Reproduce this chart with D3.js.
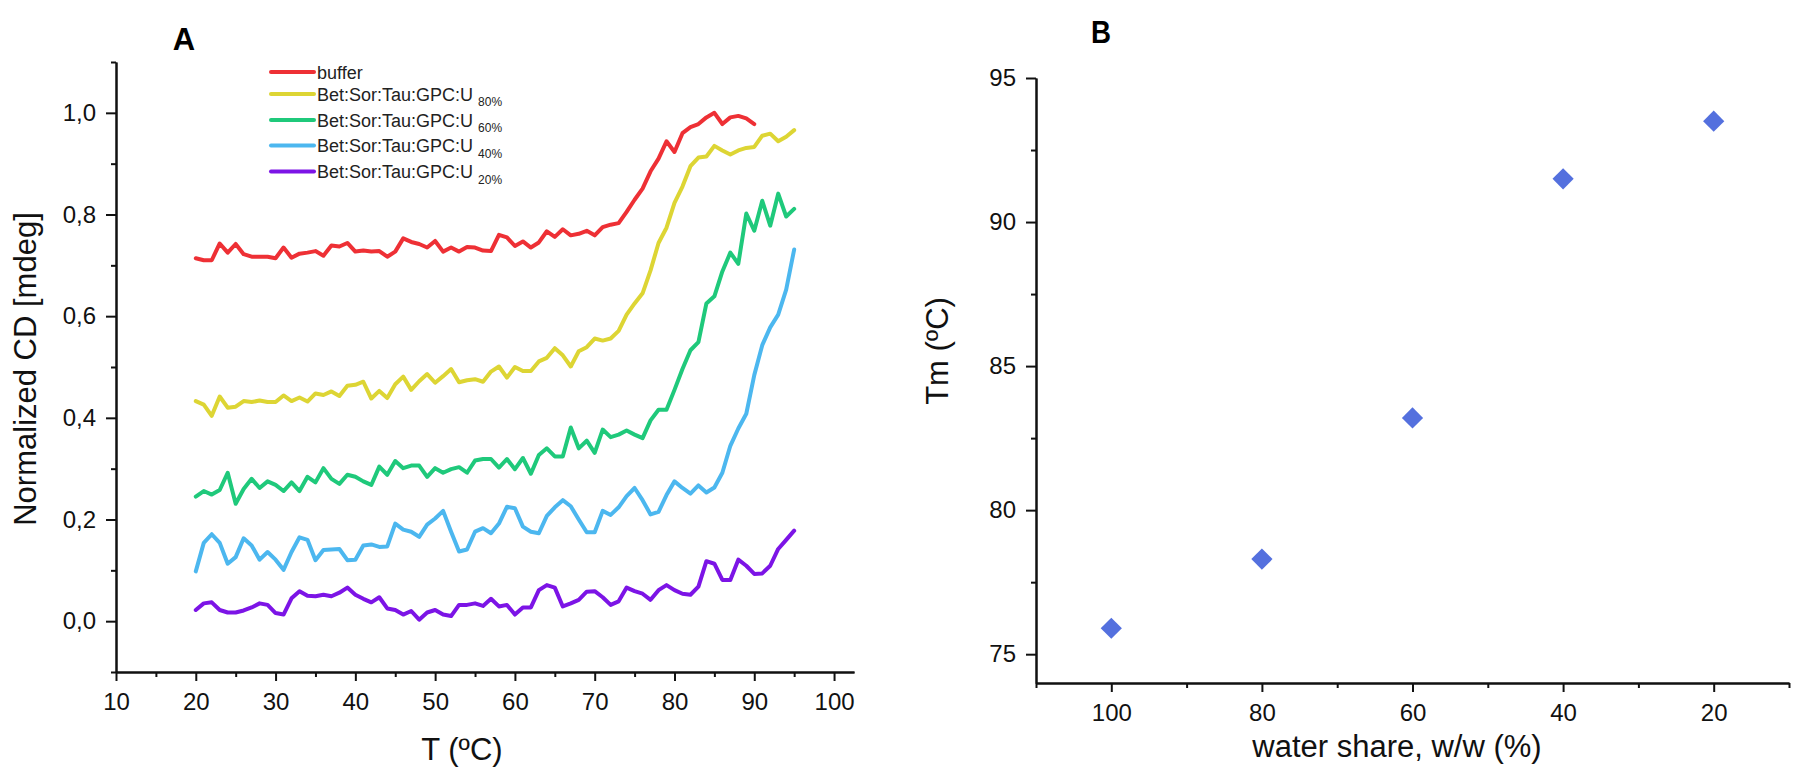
<!DOCTYPE html>
<html>
<head>
<meta charset="utf-8">
<script src="https://cdn.jsdelivr.net/npm/d3@7"></script>
<style>
    body { margin: 0; background: #fff; }
    svg { display: block; font-family: "Liberation Sans", Arial, sans-serif; }
    .axis path, .axis line { stroke: #111; stroke-width: 2; }
    .axis text { font-size: 24px; fill: #111; }
</style>
</head>
<body>
<svg id="chart" width="1801" height="774"></svg>
<script>
// panel A: CD melting curves, one point per degree
const temps = [20, 21, 22, 23, 24, 25, 26, 27, 28, 29, 30, 31, 32, 33, 34, 35, 36, 37, 38, 39,
    40, 41, 42, 43, 44, 45, 46, 47, 48, 49, 50, 51, 52, 53, 54, 55, 56, 57, 58, 59,
    60, 61, 62, 63, 64, 65, 66, 67, 68, 69, 70, 71, 72, 73, 74, 75, 76, 77, 78, 79,
    80, 81, 82, 83, 84, 85, 86, 87, 88, 89, 90, 91, 92, 93, 94, 95];

const buffer = [0.714, 0.71, 0.71, 0.743, 0.725, 0.742, 0.722, 0.717, 0.717, 0.717,
    0.714, 0.735, 0.715, 0.723, 0.725, 0.728, 0.719, 0.739, 0.737, 0.744,
    0.727, 0.729, 0.727, 0.728, 0.717, 0.727, 0.753, 0.746, 0.742, 0.735,
    0.748, 0.727, 0.735, 0.727, 0.736, 0.735, 0.729, 0.728, 0.76, 0.755,
    0.738, 0.747, 0.735, 0.745, 0.767, 0.756, 0.771, 0.759, 0.762, 0.768,
    0.759, 0.775, 0.78, 0.783, 0.805, 0.829, 0.851, 0.885, 0.91, 0.944,
    0.923, 0.96, 0.972, 0.978, 0.991, 1.0, 0.978, 0.991, 0.994, 0.989,
    0.978];

const u80 = [0.433, 0.426, 0.404, 0.442, 0.42, 0.422, 0.433, 0.431, 0.434, 0.431,
    0.431, 0.444, 0.433, 0.44, 0.432, 0.448, 0.445, 0.452, 0.443, 0.463,
    0.465, 0.471, 0.438, 0.453, 0.439, 0.466, 0.481, 0.455, 0.472, 0.486,
    0.469, 0.482, 0.496, 0.47, 0.474, 0.476, 0.471, 0.491, 0.501, 0.479,
    0.5, 0.492, 0.492, 0.511, 0.518, 0.537, 0.523, 0.501, 0.531, 0.539,
    0.556, 0.552, 0.556, 0.571, 0.603, 0.625, 0.645, 0.69, 0.744, 0.774,
    0.823, 0.855, 0.895, 0.912, 0.914, 0.935, 0.926, 0.918, 0.926, 0.931,
    0.933, 0.955, 0.959, 0.944, 0.953, 0.966];

const u60 = [0.245, 0.256, 0.249, 0.258, 0.292, 0.231, 0.26, 0.28, 0.262, 0.275,
    0.268, 0.256, 0.273, 0.256, 0.284, 0.273, 0.301, 0.28, 0.27, 0.288,
    0.284, 0.275, 0.268, 0.304, 0.288, 0.315, 0.301, 0.306, 0.306, 0.284,
    0.301, 0.292, 0.299, 0.303, 0.292, 0.316, 0.319, 0.319, 0.302, 0.319,
    0.299, 0.321, 0.29, 0.327, 0.34, 0.324, 0.324, 0.381, 0.34, 0.355,
    0.331, 0.377, 0.362, 0.367, 0.375, 0.367, 0.36, 0.395, 0.416, 0.416,
    0.455, 0.496, 0.533, 0.549, 0.625, 0.639, 0.688, 0.725, 0.703, 0.802,
    0.768, 0.827, 0.778, 0.841, 0.796, 0.811];

const u40 = [0.098, 0.154, 0.171, 0.154, 0.113, 0.126, 0.163, 0.149, 0.121, 0.136,
    0.121, 0.101, 0.136, 0.165, 0.16, 0.12, 0.14, 0.141, 0.142, 0.12,
    0.121, 0.149, 0.151, 0.146, 0.147, 0.192, 0.18, 0.176, 0.166, 0.19,
    0.202, 0.217, 0.176, 0.137, 0.141, 0.176, 0.183, 0.173, 0.192, 0.225,
    0.222, 0.186, 0.176, 0.173, 0.207, 0.224, 0.238, 0.226, 0.2, 0.175,
    0.175, 0.217, 0.209, 0.224, 0.246, 0.262, 0.238, 0.21, 0.215, 0.248,
    0.275, 0.262, 0.251, 0.267, 0.253, 0.263, 0.292, 0.345, 0.379, 0.408,
    0.484, 0.543, 0.578, 0.603, 0.652, 0.731];

const u20 = [0.022, 0.035, 0.037, 0.022, 0.017, 0.017, 0.021, 0.027, 0.035, 0.032,
    0.016, 0.013, 0.045, 0.059, 0.05, 0.049, 0.052, 0.049, 0.056, 0.066,
    0.052, 0.044, 0.037, 0.047, 0.025, 0.022, 0.013, 0.02, 0.003, 0.017,
    0.022, 0.013, 0.01, 0.032, 0.032, 0.035, 0.03, 0.044, 0.029, 0.032,
    0.013, 0.027, 0.027, 0.061, 0.071, 0.066, 0.029, 0.035, 0.042, 0.058,
    0.059, 0.047, 0.032, 0.039, 0.066, 0.059, 0.054, 0.042, 0.061, 0.071,
    0.061, 0.054, 0.052, 0.068, 0.118, 0.113, 0.081, 0.081, 0.121, 0.109,
    0.093, 0.094, 0.109, 0.142, 0.16, 0.178];

const seriesNames = ["buffer", "Bet:Sor:Tau:GPC:U", "Bet:Sor:Tau:GPC:U", "Bet:Sor:Tau:GPC:U", "Bet:Sor:Tau:GPC:U"];
const seriesSubs = ["", "80%", "60%", "40%", "20%"];
const seriesColors = ["#ee3035", "#ddd534", "#1fc97b", "#4cb7ef", "#7c14e6"];
const seriesValues = [buffer, u80, u60, u40, u20];

const xTicksA = [10, 20, 30, 40, 50, 60, 70, 80, 90, 100];
const yTicksA = [0, 0.2, 0.4, 0.6, 0.8, 1.0];

// panel B: melting temperature vs water share
const waterShare = [100, 80, 60, 40, 20];
const tm = [75.9, 78.3, 83.2, 91.5, 93.5];
const xTicksB = [100, 80, 60, 40, 20];
const yTicksB = [75, 80, 85, 90, 95];

const svg = d3.select("#chart");

function drawAxes(g, x, y, xMajor, xMinor, yMajor, yMinor, yFormat) {
    g.append("g").attr("class", "axis")
        .attr("transform", `translate(0,${y.range()[0]})`)
        .call(d3.axisBottom(x).tickValues(xMinor).tickSize(5).tickSizeOuter(0).tickFormat(""));
    g.append("g").attr("class", "axis")
        .attr("transform", `translate(0,${y.range()[0]})`)
        .call(d3.axisBottom(x).tickValues(xMajor).tickSize(9).tickSizeOuter(0).tickPadding(12));
    g.append("g").attr("class", "axis")
        .attr("transform", `translate(${x.range()[0]},0)`)
        .call(d3.axisLeft(y).tickValues(yMinor).tickSize(5).tickSizeOuter(0).tickFormat(""));
    g.append("g").attr("class", "axis")
        .attr("transform", `translate(${x.range()[0]},0)`)
        .call(d3.axisLeft(y).tickValues(yMajor).tickSize(10).tickSizeOuter(0).tickPadding(10).tickFormat(yFormat));
}

// ---- panel A
const xA = d3.scaleLinear().domain([10, 102.5]).range([116, 854]);
const yA = d3.scaleLinear().domain([-0.1, 1.1]).range([672, 62]);
const gA = svg.append("g");

drawAxes(gA, xA, yA, xTicksA, [15, 25, 35, 45, 55, 65, 75, 85, 95],
    yTicksA, [-0.1, 0.1, 0.3, 0.5, 0.7, 0.9, 1.1],
    d => d3.format(".1f")(d).replace(".", ","));

const line = d3.line()
    .x((d, i) => xA(temps[i]))
    .y(d => yA(d));

seriesValues.forEach((vals, i) => {
    gA.append("path")
        .datum(vals)
        .attr("d", line)
        .attr("fill", "none")
        .attr("stroke", seriesColors[i])
        .attr("stroke-width", 4)
        .attr("stroke-linejoin", "round")
        .attr("stroke-linecap", "round");
});

// legend
const legendY = [72, 94, 120, 145.5, 171.5];
const legend = gA.append("g");
seriesNames.forEach((name, i) => {
    legend.append("line")
        .attr("x1", 271).attr("x2", 314)
        .attr("y1", legendY[i]).attr("y2", legendY[i])
        .attr("stroke", seriesColors[i])
        .attr("stroke-width", 4)
        .attr("stroke-linecap", "round");
    const t = legend.append("text")
        .attr("x", 317).attr("y", legendY[i] + 6.5)
        .attr("font-size", 18).attr("fill", "#222")
        .text(name);
    if (seriesSubs[i]) {
        t.append("tspan").attr("dx", 5).attr("dy", 5.5)
            .attr("font-size", 12).text(seriesSubs[i]);
    }
});

gA.append("text").attr("x", 184).attr("y", 50)
    .attr("text-anchor", "middle").attr("font-size", 31).attr("font-weight", "bold")
    .text("A");
gA.append("text").attr("x", 462).attr("y", 760)
    .attr("text-anchor", "middle").attr("font-size", 31).attr("fill", "#111")
    .text("T (ºC)");
gA.append("text").attr("transform", "translate(36,369) rotate(-90)")
    .attr("text-anchor", "middle").attr("font-size", 31).attr("fill", "#111")
    .text("Normalized CD [mdeg]");

// ---- panel B
const xB = d3.scaleLinear().domain([110, 10]).range([1036, 1789]);
const yB = d3.scaleLinear().domain([74, 95]).range([683, 78]);
const gB = svg.append("g");

drawAxes(gB, xB, yB, xTicksB, [110, 90, 70, 50, 30, 10],
    yTicksB, [77.5, 82.5, 87.5, 92.5], d3.format("d"));

gB.selectAll(".pt")
    .data(waterShare)
    .enter().append("path")
    .attr("class", "pt")
    .attr("transform", (d, i) => `translate(${xB(d)},${yB(tm[i])}) rotate(45)`)
    .attr("d", "M-7.5,-7.5H7.5V7.5H-7.5Z")
    .attr("fill", "#5470de");

gB.append("text").attr("x", 1101).attr("y", 43)
    .attr("text-anchor", "middle").attr("font-size", 31).attr("font-weight", "bold")
    .attr("textLength", 20).attr("lengthAdjust", "spacingAndGlyphs")
    .text("B");
gB.append("text").attr("x", 1397).attr("y", 757)
    .attr("text-anchor", "middle").attr("font-size", 31).attr("fill", "#111")
    .text("water share, w/w (%)");
gB.append("text").attr("transform", "translate(948,351) rotate(-90)")
    .attr("text-anchor", "middle").attr("font-size", 31).attr("fill", "#111")
    .text("Tm (ºC)");
</script>
</body>
</html>
